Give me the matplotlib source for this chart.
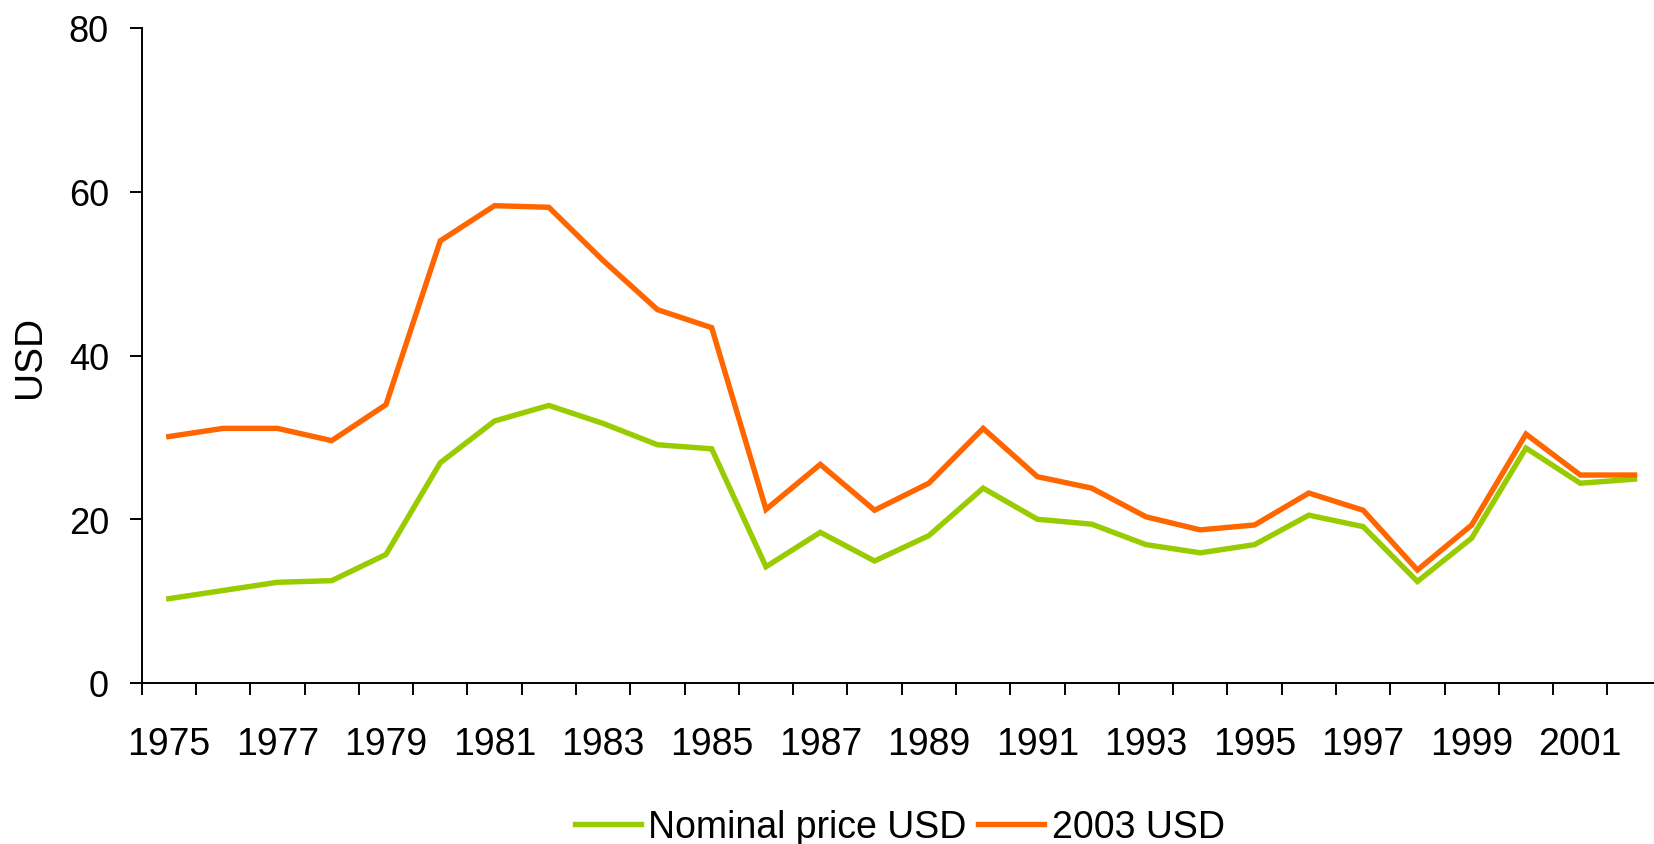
import matplotlib
matplotlib.use("Agg")
import matplotlib.pyplot as plt
import numpy as np

plt.rcParams["font.family"] = ["Liberation Sans", "DejaVu Sans"]

# Données
years = list(range(1975, 2003))
nominal_usd = [10.3, 11.3, 12.3, 12.5, 15.7, 26.9, 32.0, 33.9, 31.7, 29.1, 28.6,
               14.2, 18.4, 14.9, 18.0, 23.8, 20.0, 19.4, 16.9, 15.9, 16.9,
               20.5, 19.1, 12.4, 17.7, 28.7, 24.4, 24.9]
usd_2003 = [30.1, 31.1, 31.1, 29.6, 34.0, 54.0, 58.3, 58.1, 51.6, 45.6, 43.4,
            21.2, 26.7, 21.1, 24.4, 31.1, 25.2, 23.8, 20.3, 18.7, 19.3,
            23.2, 21.1, 13.8, 19.3, 30.4, 25.4, 25.4]
y_ticks = [0, 20, 40, 60, 80]

GREEN = "#99CC00"
ORANGE = "#FF6600"

fig = plt.figure(figsize=(16.54, 8.45), dpi=100)
ax = fig.add_axes([141.7 / 1654, 161 / 845, 1520 / 1654, 655 / 845])

x = np.arange(len(years))
ax.plot(x, nominal_usd, color=GREEN, linewidth=3.9, label="Nominal price USD",
        solid_joinstyle="miter")
ax.plot(x, usd_2003, color=ORANGE, linewidth=3.9, label="2003 USD",
        solid_joinstyle="miter")

ax.set_xlim(-0.5, len(years) - 0.5)
ax.set_ylim(0, 80)

# axe Y
ax.set_yticks(y_ticks)
ax.tick_params(axis="y", direction="out", length=8.6, width=1.4, pad=15,
               labelsize=26)
ax.set_ylabel("USD", fontsize=28, labelpad=15)

# axe X : traits entre les catégories, libellés une année sur deux
ax.set_xticks(np.arange(-0.5, len(years), 1.0))
ax.set_xticklabels([])
ax.tick_params(axis="x", which="major", direction="out", length=8.6, width=1.4)
ax.set_xticks(x[::2], minor=True)
ax.set_xticklabels([str(y) for y in years[::2]], minor=True)
ax.tick_params(axis="x", which="minor", length=0, pad=31, labelsize=27)

ax.spines["top"].set_visible(False)
ax.spines["right"].set_visible(False)
ax.spines["left"].set_linewidth(1.4)
ax.spines["bottom"].set_linewidth(1.4)
ax.grid(False)

fig.legend(loc="center", bbox_to_anchor=(0.544, 0.02), ncol=2, frameon=False,
           fontsize=27, handlelength=1.76, handletextpad=0.21,
           columnspacing=0.3, borderpad=0)

fig.savefig("out.png", dpi=100)
plt.close(fig)
